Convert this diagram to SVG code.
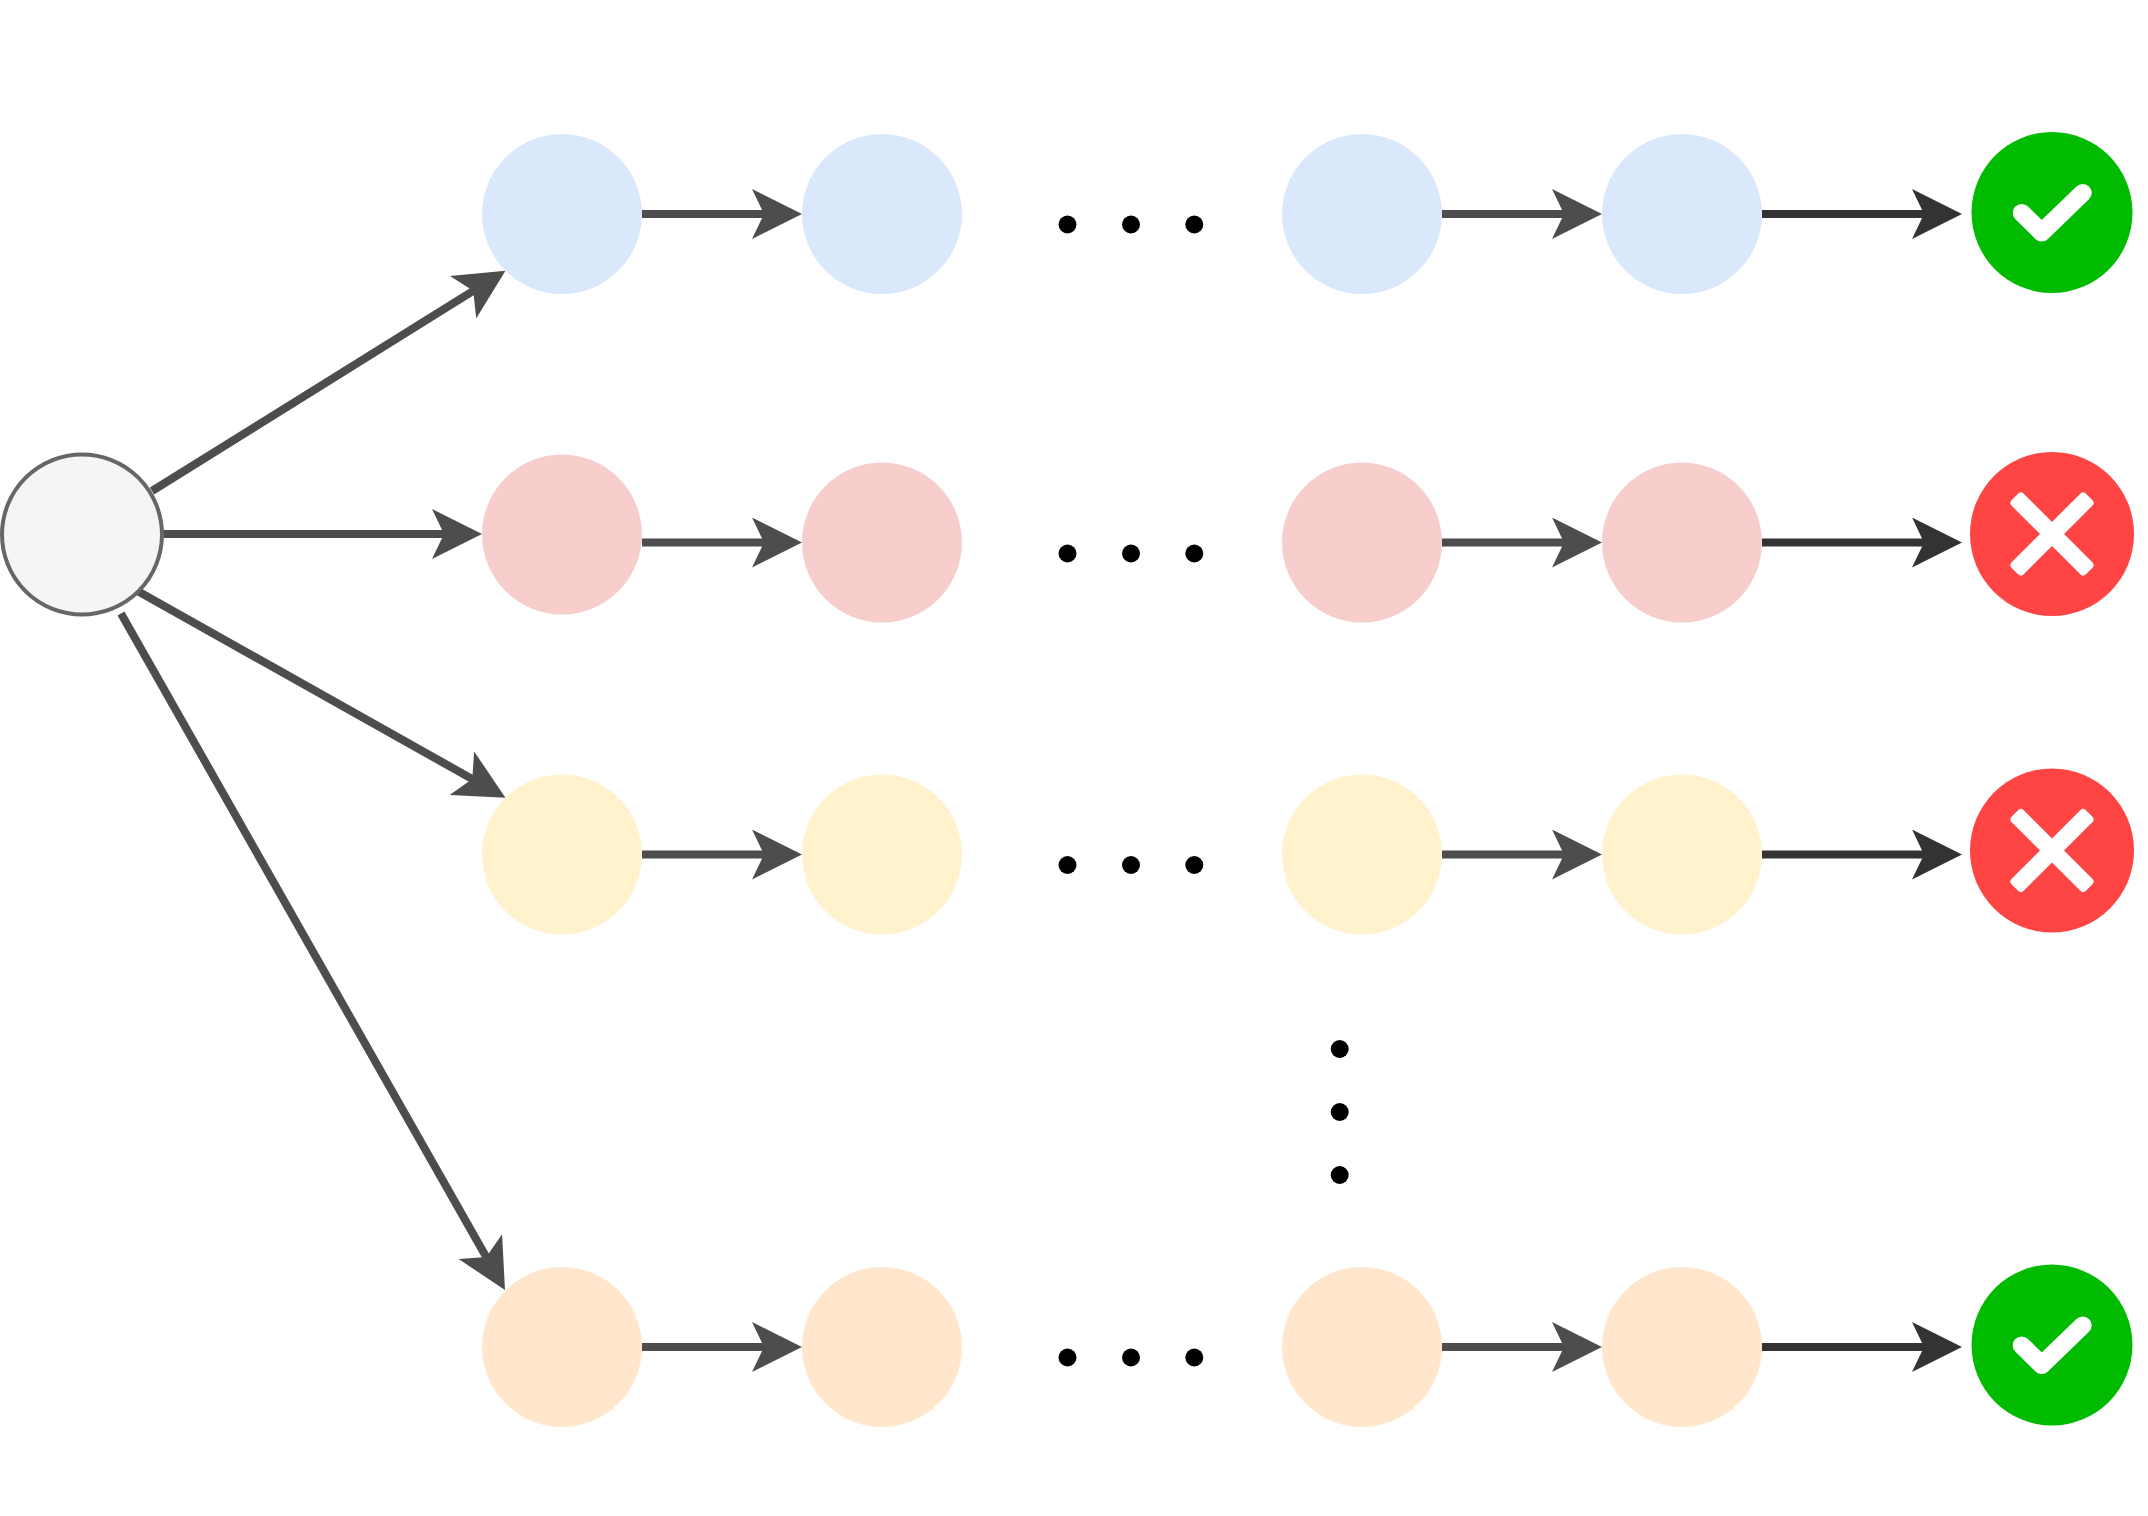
<svg xmlns="http://www.w3.org/2000/svg" width="2148" height="1516" viewBox="0 0 2148 1516">
<style>
.blue{fill:#dae8fc}.pink{fill:#f8cecc}.yellow{fill:#fff2cc}.orange{fill:#ffe6cc}
.start{fill:#f5f5f5;stroke:#666666;stroke-width:4}
.ok{fill:#00bb00}.bad{fill:#ff4444}
.dot{fill:#000000}
.c{fill:none;stroke:#4d4d4d;stroke-width:8;marker-end:url(#a)}
.d{fill:none;stroke:#333333;stroke-width:8;marker-end:url(#b)}
.check{fill:none;stroke:#ffffff;stroke-width:18;stroke-linecap:round;stroke-linejoin:round}
.x{fill:#ffffff}
</style>
<defs>
<marker id="a" markerUnits="userSpaceOnUse" viewBox="0 0 50 50" markerWidth="50" markerHeight="50" refX="20" refY="25" orient="auto"><path d="M0 0L50 25L0 50L12 25Z" fill="#4d4d4d"/></marker>
<marker id="b" markerUnits="userSpaceOnUse" viewBox="0 0 50 50" markerWidth="50" markerHeight="50" refX="20" refY="25" orient="auto"><path d="M0 0L50 25L0 50L12 25Z" fill="#333333"/></marker>
<g id="cross"><rect class="x" x="-52.5" y="-8.5" width="105" height="17" rx="4" transform="rotate(45)"/><rect class="x" x="-52.5" y="-8.5" width="105" height="17" rx="4" transform="rotate(-45)"/></g>
<path id="tick" class="check" d="M-30.3 .4L-10.3 20L30.7 -19.6"/>
</defs>
<rect width="2148" height="1516" fill="#ffffff"/>
<g id="connectors">
<line class="c" x1="152" y1="491" x2="480" y2="286.6"/>
<line class="c" x1="163" y1="534" x2="452" y2="534"/>
<line class="c" x1="138.4" y1="591.5" x2="479.3" y2="783"/>
<line class="c" x1="121" y1="613.5" x2="490.2" y2="1264"/>
<line class="c" x1="642" y1="214" x2="772" y2="214"/><line class="c" x1="1442" y1="214" x2="1572" y2="214"/><line class="d" x1="1762" y1="214" x2="1932" y2="214"/>
<line class="c" x1="642" y1="542.5" x2="772" y2="542.5"/><line class="c" x1="1442" y1="542.5" x2="1572" y2="542.5"/><line class="d" x1="1762" y1="542.5" x2="1932" y2="542.5"/>
<line class="c" x1="642" y1="854.5" x2="772" y2="854.5"/><line class="c" x1="1442" y1="854.5" x2="1572" y2="854.5"/><line class="d" x1="1762" y1="854.5" x2="1932" y2="854.5"/>
<line class="c" x1="642" y1="1347" x2="772" y2="1347"/><line class="c" x1="1442" y1="1347" x2="1572" y2="1347"/><line class="d" x1="1762" y1="1347" x2="1932" y2="1347"/>
</g>
<g id="start"><circle class="start" cx="82" cy="534.5" r="80"/></g>
<g id="r1n1"><circle class="blue" cx="562" cy="214" r="80"/></g>
<g id="r1n2"><circle class="blue" cx="882" cy="214" r="80"/></g>
<g id="r1n3"><circle class="blue" cx="1362" cy="214" r="80"/></g>
<g id="r1n4"><circle class="blue" cx="1682" cy="214" r="80"/></g>
<g id="r1end"><circle class="ok" cx="2052" cy="212.5" r="80.5"/><use href="#tick" x="2052" y="212.5"/></g>
<g id="r2n1"><circle class="pink" cx="562" cy="534.5" r="80"/></g>
<g id="r2n2"><circle class="pink" cx="882" cy="542.5" r="80"/></g>
<g id="r2n3"><circle class="pink" cx="1362" cy="542.5" r="80"/></g>
<g id="r2n4"><circle class="pink" cx="1682" cy="542.5" r="80"/></g>
<g id="r2end"><circle class="bad" cx="2052" cy="534" r="82"/><use href="#cross" x="2052" y="534"/></g>
<g id="r3n1"><circle class="yellow" cx="562" cy="854.5" r="80"/></g>
<g id="r3n2"><circle class="yellow" cx="882" cy="854.5" r="80"/></g>
<g id="r3n3"><circle class="yellow" cx="1362" cy="854.5" r="80"/></g>
<g id="r3n4"><circle class="yellow" cx="1682" cy="854.5" r="80"/></g>
<g id="r3end"><circle class="bad" cx="2052" cy="850.5" r="82"/><use href="#cross" x="2052" y="850.5"/></g>
<g id="r4n1"><circle class="orange" cx="562" cy="1347" r="80"/></g>
<g id="r4n2"><circle class="orange" cx="882" cy="1347" r="80"/></g>
<g id="r4n3"><circle class="orange" cx="1362" cy="1347" r="80"/></g>
<g id="r4n4"><circle class="orange" cx="1682" cy="1347" r="80"/></g>
<g id="r4end"><circle class="ok" cx="2052" cy="1345" r="80.5"/><use href="#tick" x="2052" y="1345"/></g>
<g id="ellipsis">
<circle class="dot" cx="1067.5" cy="224.5" r="9"/><circle class="dot" cx="1131" cy="224.5" r="9"/><circle class="dot" cx="1194.3" cy="224.5" r="9"/>
<circle class="dot" cx="1067.5" cy="553.5" r="9"/><circle class="dot" cx="1131" cy="553.5" r="9"/><circle class="dot" cx="1194.3" cy="553.5" r="9"/>
<circle class="dot" cx="1067.5" cy="865" r="9"/><circle class="dot" cx="1131" cy="865" r="9"/><circle class="dot" cx="1194.3" cy="865" r="9"/>
<circle class="dot" cx="1067.5" cy="1357.5" r="9"/><circle class="dot" cx="1131" cy="1357.5" r="9"/><circle class="dot" cx="1194.3" cy="1357.5" r="9"/>
<circle class="dot" cx="1339.7" cy="1049" r="9"/><circle class="dot" cx="1339.7" cy="1112" r="9"/><circle class="dot" cx="1339.7" cy="1175" r="9"/>
</g>
</svg>
